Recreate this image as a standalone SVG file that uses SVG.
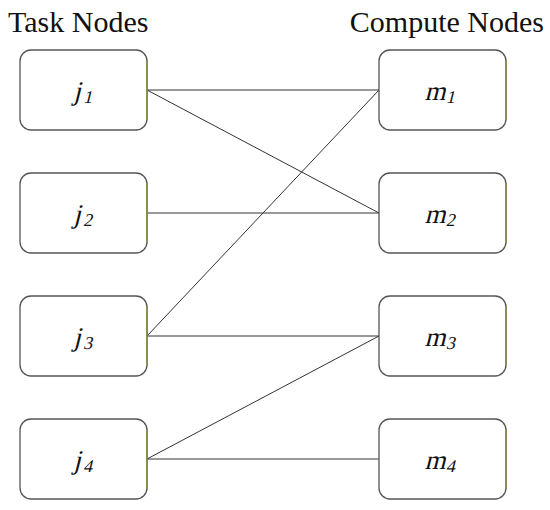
<svg xmlns="http://www.w3.org/2000/svg" width="550" height="510" viewBox="0 0 550 510">
<style>
.box{fill:#fff;stroke:#555;stroke-width:1.3}
.edge{stroke:#8a8a3a;stroke-width:1.3}
.lbl{font-family:"Liberation Serif",serif;font-size:27px;fill:#111;text-anchor:middle}
.sub{font-size:18px}
.title{font-family:"Liberation Serif",serif;font-size:30px;fill:#111}
.con line{stroke:#333;stroke-width:1}
</style>
<rect width="550" height="510" fill="#fff"/>
<text class="title" x="8" y="32">Task Nodes</text>
<text class="title" x="544" y="32" text-anchor="end">Compute Nodes</text>
<g class="con" id="connectors">
<line x1="147" y1="90" x2="379" y2="90"/>
<line x1="147" y1="90" x2="379" y2="213"/>
<line x1="147" y1="213" x2="379" y2="213"/>
<line x1="147" y1="336" x2="379" y2="90"/>
<line x1="147" y1="336" x2="379" y2="336"/>
<line x1="147" y1="459" x2="379" y2="336"/>
<line x1="147" y1="459" x2="379" y2="459"/>
</g>
<g id="j1"><rect class="box" x="20" y="50" width="127" height="80" rx="11"/><line class="edge" x1="147" y1="60" x2="147" y2="120"/><text class="lbl" transform="translate(83,100) skewX(-14)">j<tspan class="sub" dx="3" dy="3">1</tspan></text></g>
<g id="j2"><rect class="box" x="20" y="173" width="127" height="80" rx="11"/><line class="edge" x1="147" y1="183" x2="147" y2="243"/><text class="lbl" transform="translate(83,223) skewX(-14)">j<tspan class="sub" dx="3" dy="3">2</tspan></text></g>
<g id="j3"><rect class="box" x="20" y="296" width="127" height="80" rx="11"/><line class="edge" x1="147" y1="306" x2="147" y2="366"/><text class="lbl" transform="translate(83,346) skewX(-14)">j<tspan class="sub" dx="3" dy="3">3</tspan></text></g>
<g id="j4"><rect class="box" x="20" y="419" width="127" height="80" rx="11"/><line class="edge" x1="147" y1="429" x2="147" y2="489"/><text class="lbl" transform="translate(83,469) skewX(-14)">j<tspan class="sub" dx="3" dy="3">4</tspan></text></g>
<g id="m1"><rect class="box" x="379" y="50" width="127" height="80" rx="11"/><line class="edge" x1="506" y1="60" x2="506" y2="120"/><text class="lbl" transform="translate(440,100) skewX(-14)">m<tspan class="sub" dx="1" dy="3">1</tspan></text></g>
<g id="m2"><rect class="box" x="379" y="173" width="127" height="80" rx="11"/><line class="edge" x1="506" y1="183" x2="506" y2="243"/><text class="lbl" transform="translate(440,223) skewX(-14)">m<tspan class="sub" dx="1" dy="3">2</tspan></text></g>
<g id="m3"><rect class="box" x="379" y="296" width="127" height="80" rx="11"/><line class="edge" x1="506" y1="306" x2="506" y2="366"/><text class="lbl" transform="translate(440,346) skewX(-14)">m<tspan class="sub" dx="1" dy="3">3</tspan></text></g>
<g id="m4"><rect class="box" x="379" y="419" width="127" height="80" rx="11"/><line class="edge" x1="506" y1="429" x2="506" y2="489"/><text class="lbl" transform="translate(440,469) skewX(-14)">m<tspan class="sub" dx="1" dy="3">4</tspan></text></g>
</svg>
